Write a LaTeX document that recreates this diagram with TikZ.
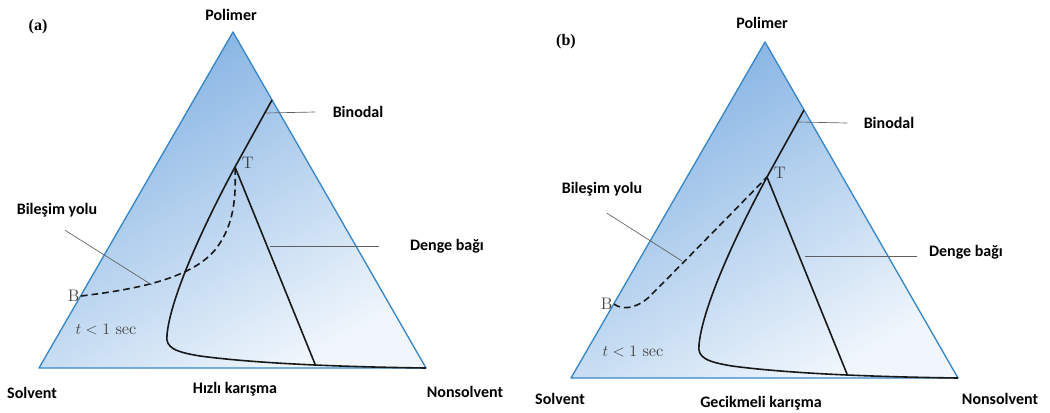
\documentclass[tikz,border=0pt]{standalone}
\usepackage{fontspec}
\newfontfamily\labelfont{Carlito}
\newfontfamily\panelfont{Liberation Serif}
\definecolor{edgeblue}{RGB}{55,135,200}
\definecolor{shadetop}{RGB}{128,176,226}
\definecolor{shadelow}{RGB}{240,246,252}
\begin{document}
\begin{tikzpicture}[
    x=0.75pt, y=-0.75pt,
    lbl/.style={font=\labelfont\bfseries\fontsize{12}{14}\selectfont, inner sep=0pt},
    ptlabel/.style={font=\fontsize{12.5}{14}\selectfont, text=black!75, inner sep=1pt},
    panel/.style={font=\panelfont\bfseries\fontsize{12}{14}\selectfont, inner sep=0pt},
    curve/.style={line width=1.2pt, black!90},
    pathline/.style={curve, dash pattern=on 5pt off 3pt},
    leader/.style={gray!75!black, line width=0.5pt}
]
\useasboundingbox (0,0) rectangle (1050,412);

% Triangle and binodal, the same in both panels
\foreach \dx/\dy/\p in {0/0/a,532/10/b}{
\begin{scope}[shift={(\dx,\dy)}]
  \coordinate (top\p) at (233,32);
  \coordinate (sol\p) at (39,368);
  \coordinate (non\p) at (426,368);
  \coordinate (bin\p) at (272,100);
  \coordinate (T\p) at (235,167);
  \coordinate (tie\p) at (315,364);
  \shade[top color=shadetop, bottom color=shadelow, shading angle=30]
    (top\p) -- (sol\p) -- (non\p) -- cycle;
  \draw[edgeblue, line width=1pt, line join=round] (top\p) -- (sol\p) -- (non\p) -- cycle;
  \draw[curve] (bin\p) -- (T\p) .. controls (200,232) and (170,300) .. (167,335)
    .. controls (165,348) and (176,352) .. (200,356)
    .. controls (260,364) and (350,367) .. (non\p);
  \draw[curve] (T\p) -- (tie\p);
\end{scope}
}

% Panel (a): fast mixing
\node[panel] (titleA) at (38,27) {(a)};
\node[lbl] (polA) at (231,15) {Polimer};
\node[lbl] (solA) at (32,393) {Solvent};
\node[lbl] (nonA) at (465,392) {Nonsolvent};
\node[lbl] (mixA) at (235,389) {Hızlı karışma};
\node[lbl] (binA) at (358,112) {Binodal};
\node[lbl] (tieA) at (447,246) {Denge bağı};
\node[lbl] (pathA) at (57,210) {Bileşim yolu};
\node[ptlabel] (timeA) at (106,330) {$t<1$ sec};

\coordinate (Ba) at (81,296);
\draw[pathline] (Ba) .. controls (130,290) and (190,280) .. (215,250)
  .. controls (235,225) and (236,195) .. (Ta);
\node[ptlabel, left] (BlabA) at (Ba) {B};
\node[ptlabel, anchor=west, xshift=4pt, yshift=3pt] (TlabA) at (Ta) {T};

\coordinate (binptA) at (266,113);
\coordinate (tieptA) at (270,246);
\coordinate (pathptA) at (152,285);
\draw[leader] (binptA) -- ([xshift=-13pt]binA.west);
\draw[leader] (tieptA) -- ([xshift=-23pt]tieA.west);
\draw[leader] (pathptA) -- ([shift={(8,13)}]pathA.south);

% Panel (b): delayed mixing
\node[panel] (titleB) at (566,42) {(b)};
\node[lbl] (polB) at (762,23) {Polimer};
\node[lbl] (solB) at (560,399) {Solvent};
\node[lbl] (nonB) at (1000,399) {Nonsolvent};
\node[lbl] (mixB) at (761,403) {Gecikmeli karışma};
\node[lbl] (binB) at (889,123) {Binodal};
\node[lbl] (tieB) at (966,252) {Denge bağı};
\node[lbl] (pathB) at (602,189) {Bileşim yolu};
\node[ptlabel] (timeB) at (633,352) {$t<1$ sec};

\coordinate (Bb) at (614,304);
\draw[pathline] (Bb) .. controls (622,310) and (635,309) .. (648,298)
  .. controls (680,266) and (730,215) .. (Tb);
\node[ptlabel, left] (BlabB) at (Bb) {B};
\node[ptlabel, anchor=west, xshift=4pt, yshift=3pt] (TlabB) at (Tb) {T};

\coordinate (binptB) at (798,122);
\coordinate (tieptB) at (805,256);
\coordinate (pathptB) at (682,261);
\draw[leader] (binptB) -- ([xshift=-12pt]binB.west);
\draw[leader] (tieptB) -- ([shift={(-12,4)}]tieB.west);
\draw[leader] (pathptB) -- ([shift={(5,17)}]pathB.south);

\end{tikzpicture}
\end{document}
